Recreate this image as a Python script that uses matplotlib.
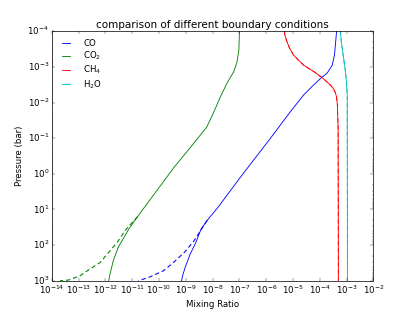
import matplotlib
matplotlib.use("Agg")
import matplotlib.pyplot as plt
from matplotlib.ticker import LogLocator, NullLocator

# --- CO2 (green): shared upper profile, then two lower branches ---
co2_p_top = [1e-4, 3.4e-4, 7.9e-4, 1.4e-3, 2.9e-3, 7.2e-3, 2.0e-2, 4.9e-2, 0.22, 0.66, 15.8]
co2_x_top = [1.0e-7, 9.5e-8, 7.9e-8, 6.0e-8, 3.4e-8, 1.9e-8, 1.05e-8, 6.0e-9, 1.2e-9, 3.6e-10, 1.58e-11]
co2_p_solid = [35.5, 115.0, 275.0, 645.0, 1000.0]
co2_x_solid = [7.4e-12, 3.0e-12, 1.95e-12, 1.48e-12, 1.32e-12]
co2_p_dash = [39.0, 76.0, 145.0, 310.0, 470.0, 725.0, 955.0, 1000.0]
co2_x_dash = [5.4e-12, 3.0e-12, 1.48e-12, 6.2e-13, 2.6e-13, 1.12e-13, 4.1e-14, 2.0e-14]

# --- CO (blue) ---
co_p_top = [1e-4, 1.95e-4, 4.7e-4, 8.9e-4, 1.51e-3, 2.0e-3, 3.2e-3, 6.2e-3, 1.82e-2, 0.102, 1.26, 8.7, 20.0]
co_x_top = [4.2e-4, 3.9e-4, 3.5e-4, 2.9e-4, 1.86e-4, 1.15e-4, 5.9e-5, 2.45e-5, 7.9e-6, 1.41e-6, 1.07e-7,
            1.58e-8, 6.3e-9]
co_p_solid = [35.5, 60.0, 76.0, 178.0, 430.0, 710.0, 1000.0]
co_x_solid = [3.7e-9, 2.8e-9, 2.5e-9, 1.45e-9, 9.3e-10, 7.6e-10, 6.9e-10]
co_p_dash = [76.0, 158.0, 310.0, 525.0, 775.0, 1000.0]
co_x_dash = [2.0e-9, 8.9e-10, 3.4e-10, 1.45e-10, 4.6e-11, 1.7e-11]

# --- CH4 (red) ---
ch4_p = [1e-4, 1.41e-4, 1.95e-4, 3.0e-4, 4.7e-4, 6.6e-4, 8.9e-4, 1.35e-3, 2.0e-3, 3.2e-3, 4.5e-3,
         6.9e-3, 1.17e-2, 5.4e-2, 1000.0]
ch4_x = [4.7e-6, 5.1e-6, 5.9e-6, 7.4e-6, 1.05e-5, 1.62e-5, 2.45e-5, 5.9e-5, 1.2e-4, 2.45e-4, 3.5e-4,
         4.2e-4, 4.5e-4, 4.8e-4, 4.9e-4]

# --- H2O (cyan) ---
h2o_p = [1e-4, 1.95e-4, 4.7e-4, 1.1e-3, 2.6e-3, 6.2e-3, 1000.0]
h2o_x = [5.8e-4, 6.3e-4, 7.4e-4, 8.7e-4, 9.8e-4, 1.05e-3, 1.07e-3]

plt.style.use("classic")
plt.rcParams["mathtext.fontset"] = "dejavusans"
plt.rcParams["font.family"] = ["DejaVu Sans"]

fig = plt.figure(figsize=(7.98, 6), dpi=52)
ax = fig.add_subplot(111)
lw = 1.2
dash = (6, 4)

ax.plot(co_x_top + co_x_solid, co_p_top + co_p_solid, "b-", lw=lw, label="CO")
ax.plot(co2_x_top + co2_x_solid, co2_p_top + co2_p_solid, "g-", lw=lw, label="CO$_2$")
ax.plot(ch4_x, ch4_p, "r-", lw=lw, label="CH$_4$")
ax.plot(h2o_x, h2o_p, "c-", lw=lw, label="H$_2$O")

# second boundary condition (dashed) -- only differs below the split point
ax.plot(co_x_top[-1:] + co_x_dash, co_p_top[-1:] + co_p_dash, "b--", lw=1.5, dashes=dash)
ax.plot(co2_x_top[-1:] + co2_x_dash, co2_p_top[-1:] + co2_p_dash, "g--", lw=1.5, dashes=dash)
ax.plot(ch4_x, ch4_p, "r--", lw=lw, dashes=dash)
ax.plot(h2o_x, h2o_p, "c--", lw=lw, dashes=dash)

ax.set_xscale("log")
ax.set_yscale("log")
ax.set_xlim(1e-14, 1e-2)
ax.set_ylim(1e3, 1e-4)
ax.xaxis.set_major_locator(LogLocator(base=10, numticks=20))
ax.xaxis.set_minor_locator(NullLocator())
ax.yaxis.set_major_locator(LogLocator(base=10, numticks=20))
ax.yaxis.set_minor_locator(LogLocator(base=10, subs=range(2, 10), numticks=20))

ax.set_xlabel("Mixing Ratio")
ax.set_ylabel("Pressure (bar)")
ax.set_title("comparison of different boundary conditions")
ax.legend(loc="upper left", frameon=False, fontsize=12, handlelength=1.5,
          labelspacing=0.2, handletextpad=1.2)

fig.savefig("out.png", dpi=52)
